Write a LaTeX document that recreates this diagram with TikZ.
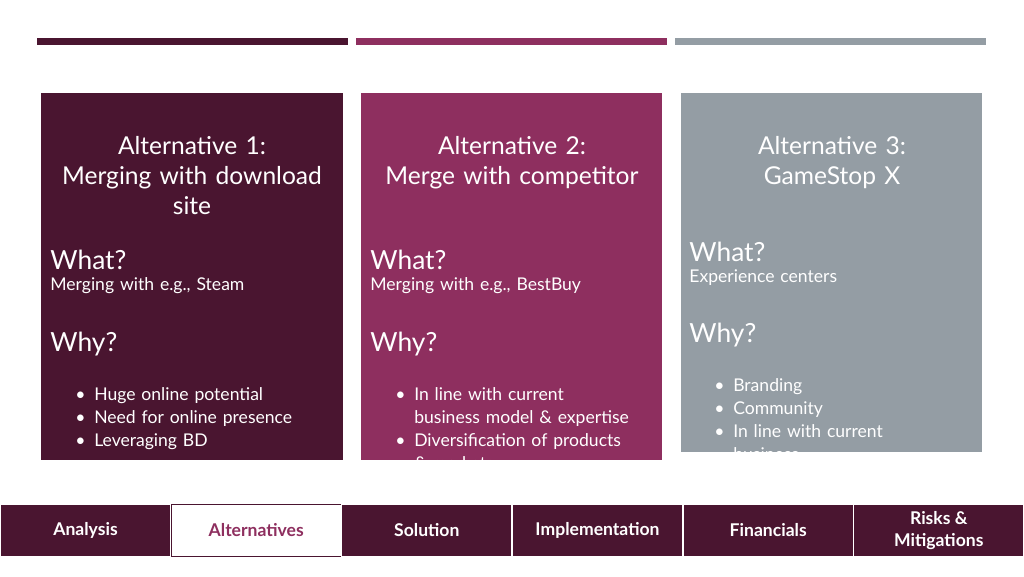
\documentclass[tikz,border=0pt]{standalone}
\usepackage{fontspec}
\setmainfont{Lato}
\usetikzlibrary{positioning}
\definecolor{plum}{HTML}{4A1530}
\definecolor{berry}{HTML}{8E2F5F}
\definecolor{slate}{HTML}{949DA4}
\begin{document}
\begin{tikzpicture}[x=0.02cm,y=-0.02cm,
            card/.style={draw=none},
            title/.style={text=white, font=\fontsize{14}{17}\selectfont, align=center, text width=5.6cm, anchor=north},
            head/.style={text=white, font=\fontsize{15}{18}\selectfont, anchor=north west, inner sep=0pt},
            body/.style={text=white, font=\fontsize{10}{13}\selectfont, anchor=north west, inner sep=0pt, text width=5.3cm, align=left},
            tab/.style={rectangle, draw=white, fill=plum, text=white, font=\bfseries\fontsize{10}{13}\selectfont, minimum width=3.4cm, minimum height=1.04cm, anchor=north west, inner sep=0pt, align=center, line width=0.6pt}
        ]
            \useasboundingbox (0,0) rectangle (1024,576);

            % top bars
            \fill[plum] (37,38) rectangle (348,45);
            \fill[berry] (356,38) rectangle (667,45);
            \fill[slate] (675,38) rectangle (986,45);

            % cards
            \fill[plum] (41,93) rectangle (343,460);
            \fill[berry] (361,93) rectangle (662,460);
            \fill[slate] (681,93) rectangle (982,452);

            % Alternative 1
            \node[title] (alt1) at (192,130) {Alternative 1:\\Merging with download\\site};
            \node[head] (what1) at (50,250) {What?};
            \node[body] (whattxt1) [below=4pt of what1.south west, anchor=north west] {Merging with e.g., Steam};
            \node[head] (why1) at (50,332) {Why?};
            \node[body] (whytxt1) [below=4pt of why1.south west, anchor=north west] {%
                \begin{itemize}\setlength{\itemsep}{0pt}\setlength{\parskip}{0pt}\setlength{\leftmargin}{14pt}
                \item[\textbullet] Huge online potential
                \item[\textbullet] Need for online presence
                \item[\textbullet] Leveraging BD
                \end{itemize}};

            % Alternative 2
            \node[title] (alt2) at (512,130) {Alternative 2:\\Merge with competitor};
            \node[head] (what2) at (370,250) {What?};
            \node[body] (whattxt2) [below=4pt of what2.south west, anchor=north west] {Merging with e.g., BestBuy};
            \node[head] (why2) at (370,332) {Why?};
            \node[body] (whytxt2) [below=4pt of why2.south west, anchor=north west] {%
                \begin{itemize}\setlength{\itemsep}{0pt}\setlength{\parskip}{0pt}
                \item[\textbullet] In line with current business model \& expertise
                \item[\textbullet] Diversification of products \& markets
                \end{itemize}};

            % Alternative 3
            \node[title] (alt3) at (832,130) {Alternative 3:\\GameStop X};
            \node[head] (what3) at (689,242) {What?};
            \node[body] (whattxt3) [below=4pt of what3.south west, anchor=north west] {Experience centers};
            \node[head] (why3) at (689,323) {Why?};
            \node[body] (whytxt3) [below=4pt of why3.south west, anchor=north west] {%
                \begin{itemize}\setlength{\itemsep}{0pt}\setlength{\parskip}{0pt}
                \item[\textbullet] Branding
                \item[\textbullet] Community
                \item[\textbullet] In line with current business
                \item[\textbullet] eSports
                \end{itemize}};

            % navigation tabs
            \node[tab] (analysis) at (0,504) {Analysis};
            \node[tab, fill=white, draw=plum, text=berry] (alternatives) at (170.7,504) {Alternatives};
            \node[tab] (solution) at (341.3,504) {Solution};
            \node[tab] (implementation) at (512,504) {Implementation};
            \node[tab] (financials) at (682.7,504) {Financials};
            \node[tab] (risks) at (853.3,504) {Risks \&\\Mitigations};
        \end{tikzpicture}
\end{document}
